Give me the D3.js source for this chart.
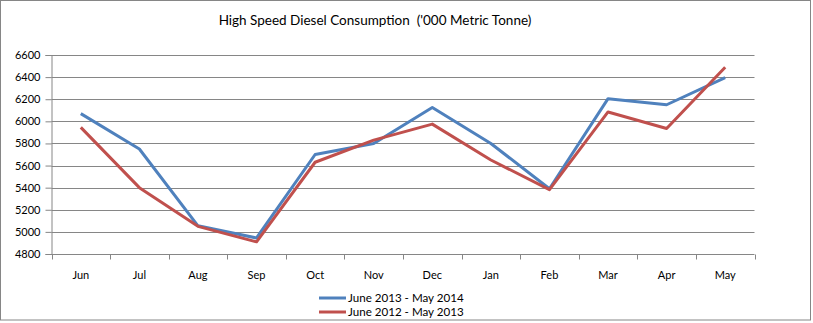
<!DOCTYPE html>
<html>
<head>
<meta charset="utf-8">
<script src="https://cdn.jsdelivr.net/npm/d3@7"></script>
<style>
  html, body { margin: 0; padding: 0; background: #fff; }
  svg { display: block; }
  text { font-family: Lato, "Open Sans", sans-serif; fill: #000; }
</style>
</head>
<body>
<svg id="chart" width="813" height="323"></svg>
<script>
// Monthly high speed diesel consumption ('000 metric tonne)
const months = ["Jun", "Jul", "Aug", "Sep", "Oct", "Nov", "Dec", "Jan", "Feb", "Mar", "Apr", "May"];
const series2013 = [6070, 5750, 5055, 4945, 5700, 5800, 6125, 5800, 5390, 6205, 6150, 6395];
const series2012 = [5945, 5400, 5050, 4910, 5630, 5830, 5975, 5650, 5382, 6085, 5935, 6490];
const yTicks = [4800, 5000, 5200, 5400, 5600, 5800, 6000, 6200, 6400, 6600];
const seriesNames = ["June 2013 - May 2014", "June 2012 - May 2013"];
const seriesColors = ["#4F81BD", "#C0504D"];
const titleText = "High Speed Diesel Consumption  ('000 Metric Tonne)";

const svg = d3.select("#chart");
const plot = { left: 51.5, right: 754.5, top: 55, bottom: 254 };

// outer chart frame
svg.append("rect")
  .attr("x", 0.5).attr("y", 0.5)
  .attr("width", 810).attr("height", 319.5)
  .attr("fill", "#fff").attr("stroke", "#868686");

svg.append("text")
  .attr("x", 375).attr("y", 25)
  .attr("text-anchor", "middle")
  .style("font-size", "13.5px")
  .style("white-space", "pre")
  .text(titleText);

const x = d3.scaleBand().domain(months).range([plot.left, plot.right]);
const y = d3.scaleLinear().domain([4800, 6600]).range([plot.bottom, plot.top]);

// horizontal gridlines
svg.append("g")
  .selectAll("line")
  .data(yTicks.slice(1))
  .join("line")
  .attr("x1", plot.left).attr("x2", plot.right)
  .attr("y1", d => Math.round(y(d)) + 0.5).attr("y2", d => Math.round(y(d)) + 0.5)
  .attr("stroke", "#868686").attr("stroke-width", 1);

// y axis
const yAxis = svg.append("g")
  .attr("transform", `translate(${plot.left},0)`)
  .call(d3.axisLeft(y).tickValues(yTicks).tickSize(6).tickPadding(5).tickFormat(d3.format("d")));
yAxis.selectAll("path, line").attr("stroke", "#868686");
yAxis.selectAll("text").style("font-size", "11px").style("font-family", "Lato, sans-serif");

// x axis with ticks on the category boundaries
const xAxisG = svg.append("g").attr("transform", `translate(0,${Math.round(plot.bottom) + 0.5})`);
xAxisG.append("line")
  .attr("x1", plot.left).attr("x2", plot.right)
  .attr("stroke", "#868686");
const bounds = months.map(m => x(m)).concat([x(months[months.length - 1]) + x.bandwidth()]);
xAxisG.selectAll("line.tick")
  .data(bounds)
  .join("line")
  .attr("class", "tick")
  .attr("x1", d => Math.round(d) + 0.5).attr("x2", d => Math.round(d) + 0.5)
  .attr("y1", 0).attr("y2", 5)
  .attr("stroke", "#868686");
xAxisG.selectAll("text")
  .data(months)
  .join("text")
  .attr("x", d => x(d) + x.bandwidth() / 2)
  .attr("y", 24)
  .attr("text-anchor", "middle")
  .style("font-size", "11px")
  .text(d => d);

// series lines
const line = d3.line()
  .x((d, i) => x(months[i]) + x.bandwidth() / 2)
  .y(d => y(d));

[series2013, series2012].forEach((vals, i) => {
  svg.append("path")
    .datum(vals)
    .attr("d", line)
    .attr("fill", "none")
    .attr("stroke", seriesColors[i])
    .attr("stroke-width", 3)
    .attr("stroke-linejoin", "round")
    .attr("stroke-linecap", "butt");
});

// legend
const legend = svg.append("g");
seriesNames.forEach((name, i) => {
  const cy = 298 + i * 14;
  legend.append("line")
    .attr("x1", 319).attr("x2", 346)
    .attr("y1", cy).attr("y2", cy)
    .attr("stroke", seriesColors[i]).attr("stroke-width", 3);
  legend.append("text")
    .attr("x", 348).attr("y", cy + 4)
    .style("font-size", "11.6px")
    .text(name);
});
</script>
</body>
</html>
